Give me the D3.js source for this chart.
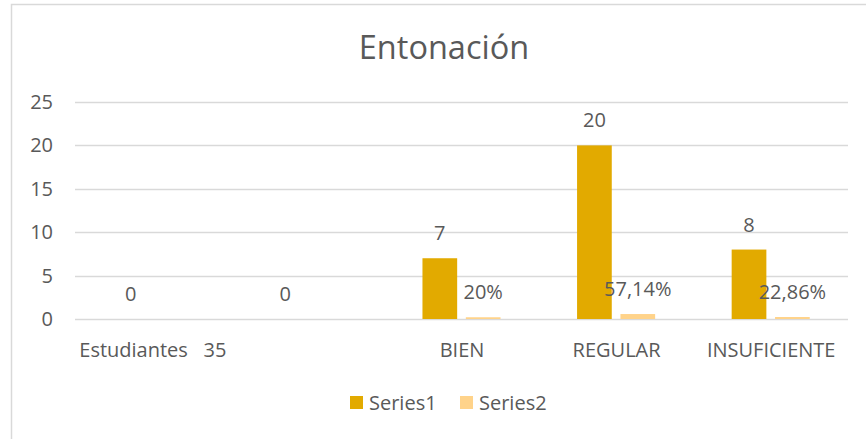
<!DOCTYPE html>
<html>
<head>
<meta charset="utf-8">
<script src="https://cdn.jsdelivr.net/npm/d3@7"></script>
<style>
  html, body { margin: 0; padding: 0; background: #fff; }
  text { font-family: "Open Sans", Lato, sans-serif; fill: #595959; }
</style>
</head>
<body>
<svg id="chart" width="866" height="439"></svg>
<script>
// Chart data
const categories = ["Estudiantes   35", "", "BIEN", "REGULAR", "INSUFICIENTE"];
const seriesNames = ["Series1", "Series2"];
const series1 = [0, 0, 7, 20, 8];
const series2 = [null, null, 0.2, 0.5714, 0.2286];
const yTicks = [0, 5, 10, 15, 20, 25];
const title = "Entonación";

const colors = { Series1: "#E2AA00", Series2: "#FFD38A" };
const FONT = "\"Open Sans\", Lato, sans-serif";
const LABEL_SIZE = "20px";

const svg = d3.select("#chart");
const W = 866, H = 439;
const plot = { left: 75, right: 848, top: 102, bottom: 319 };

// Outer frame (only top and left edges fall inside the page)
svg.append("rect")
  .attr("x", 11.5).attr("y", 4.5)
  .attr("width", W + 20).attr("height", H + 20)
  .attr("fill", "none").attr("stroke", "#D9D9D9").attr("stroke-width", 1.5);

// Title
svg.append("text")
  .attr("x", 444).attr("y", 59)
  .attr("text-anchor", "middle")
  .style("font-size", "32.5px")
  .text(title);

const x0 = d3.scaleBand()
  .domain(d3.range(categories.length))
  .range([plot.left, plot.right])
  .paddingInner(0.495)
  .paddingOuter(0.2475);

const x1 = d3.scaleBand()
  .domain(seriesNames)
  .range([0, x0.bandwidth()])
  .paddingInner(0.2);

const y = d3.scaleLinear().domain([0, 25]).range([plot.bottom, plot.top]);

// Gridlines
svg.append("g")
  .selectAll("line")
  .data(yTicks)
  .join("line")
  .attr("x1", plot.left).attr("x2", plot.right)
  .attr("y1", d => Math.round(y(d)) + 0.5).attr("y2", d => Math.round(y(d)) + 0.5)
  .attr("stroke", "#D9D9D9").attr("stroke-width", 1.5);

// Y axis labels
const yAxis = d3.axisLeft(y).tickValues(yTicks).tickSize(0).tickPadding(0);
const gy = svg.append("g").attr("transform", `translate(53,0)`).call(yAxis);
gy.select(".domain").remove();
gy.selectAll("text").style("font-size", LABEL_SIZE).attr("fill", "#595959").style("font-family", FONT);

// X axis labels
const xAxis = d3.axisBottom(d3.scalePoint().domain(d3.range(categories.length))
    .range([x0(0) + x0.bandwidth() / 2, x0(categories.length - 1) + x0.bandwidth() / 2]))
  .tickFormat(i => categories[i]).tickSize(0).tickPadding(0);
const gx = svg.append("g").attr("transform", `translate(0,357)`).call(xAxis);
gx.select(".domain").remove();
gx.selectAll("text")
  .style("font-size", LABEL_SIZE).attr("fill", "#595959")
  .style("font-family", FONT)
  .style("white-space", "pre")
  .attr("y", 0)
  .attr("dy", 0);

// Bar data
const rows = categories.map((c, i) => ({
  i,
  values: [
    { key: "Series1", v: series1[i] },
    { key: "Series2", v: series2[i] }
  ].filter(d => d.v !== null)
}));

const pct = d3.formatLocale({ decimal: ",", thousands: ".", grouping: [3], currency: ["", "€"] }).format(".2~%");
const fmt = d => d.key === "Series2" ? pct(d.v) : d3.format("d")(d.v);

const groups = svg.append("g").selectAll("g")
  .data(rows)
  .join("g")
  .attr("transform", d => `translate(${x0(d.i)},0)`);

groups.selectAll("rect")
  .data(d => d.values)
  .join("rect")
  .attr("x", d => x1(d.key))
  .attr("width", x1.bandwidth())
  .attr("y", d => y(d.v))
  .attr("height", d => y(0) - y(d.v))
  .attr("fill", d => colors[d.key]);

groups.selectAll("text")
  .data(d => d.values)
  .join("text")
  .attr("x", d => x1(d.key) + x1.bandwidth() / 2)
  .attr("y", d => y(d.v) - 18)
  .attr("text-anchor", "middle")
  .style("font-size", LABEL_SIZE)
  .text(fmt);

// Legend
const legend = svg.append("g").attr("transform", "translate(350,396)");
const legendX = [0, 110];
seriesNames.forEach((name, k) => {
  const g = legend.append("g").attr("transform", `translate(${legendX[k]},0)`);
  g.append("rect").attr("width", 13).attr("height", 13).attr("fill", colors[name]);
  g.append("text").attr("x", 19).attr("y", 14).style("font-size", LABEL_SIZE).text(name);
});
</script>
</body>
</html>
